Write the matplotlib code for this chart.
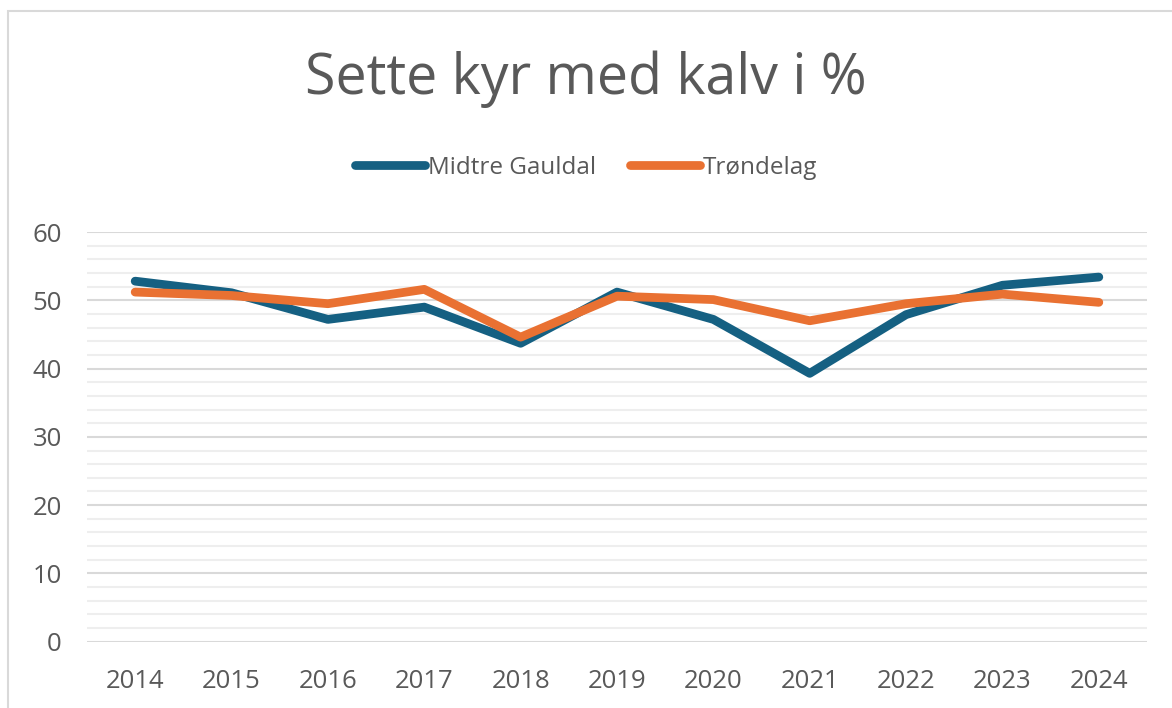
import matplotlib.pyplot as plt
from matplotlib.patches import Rectangle
from matplotlib.ticker import MultipleLocator

# Sette kyr med kalv i %, 2014-2024
years = ["2014", "2015", "2016", "2017", "2018", "2019", "2020", "2021", "2022", "2023", "2024"]
midtre_gauldal = [52.8, 51.1, 47.2, 49.0, 43.7, 51.2, 47.2, 39.3, 47.9, 52.2, 53.4]
trondelag = [51.2, 50.7, 49.5, 51.6, 44.6, 50.6, 50.1, 47.0, 49.5, 50.9, 49.7]

plt.rcParams['font.family'] = ['Open Sans', 'DejaVu Sans']
txt = "#595959"

fig = plt.figure(figsize=(11.72, 7.08), dpi=100)
ax = fig.add_axes([87/1172, 1 - 641.7/708, (1147 - 87)/1172, (641.7 - 232)/708])

x = range(len(years))
ax.plot(x, midtre_gauldal, color="#156082", lw=6.3, solid_capstyle="round",
        solid_joinstyle="round", label="Midtre Gauldal", zorder=3)
ax.plot(x, trondelag, color="#E97132", lw=6.3, solid_capstyle="round",
        solid_joinstyle="round", label="Trøndelag", zorder=4)

ax.set_xlim(-0.5, len(years) - 0.5)
ax.set_ylim(0, 60)
ax.set_xticks(list(x))
ax.set_xticklabels(years)
ax.yaxis.set_major_locator(MultipleLocator(10))
ax.yaxis.set_minor_locator(MultipleLocator(2))
ax.grid(which="major", axis="y", color="#D9D9D9", lw=1.5, zorder=1)
ax.grid(which="minor", axis="y", color="#EEEEEE", lw=1.5, zorder=0)
ax.set_axisbelow(True)
for s in ax.spines.values():
    s.set_visible(False)
ax.tick_params(axis="both", which="both", length=0, labelsize=18.5, labelcolor=txt)
ax.tick_params(axis="y", pad=18)
ax.tick_params(axis="x", pad=20)

fig.text(0.5, 1 - 79/708, "Sette kyr med kalv i %", ha="center", va="center",
         fontsize=40, color=txt)

fig.legend(loc="center", bbox_to_anchor=(0.5, 1 - 168/708), ncol=2, frameon=False,
           fontsize=17.5, labelcolor=txt, handlelength=2.9, handletextpad=0.1,
           columnspacing=1.4)

# chart border
fig.patches.append(Rectangle((8/1172, -0.1), 1.2, 1.1 - 11/708, transform=fig.transFigure,
                             fill=False, edgecolor="#D9D9D9", lw=1.5))

fig.savefig("out.png", dpi=100)
